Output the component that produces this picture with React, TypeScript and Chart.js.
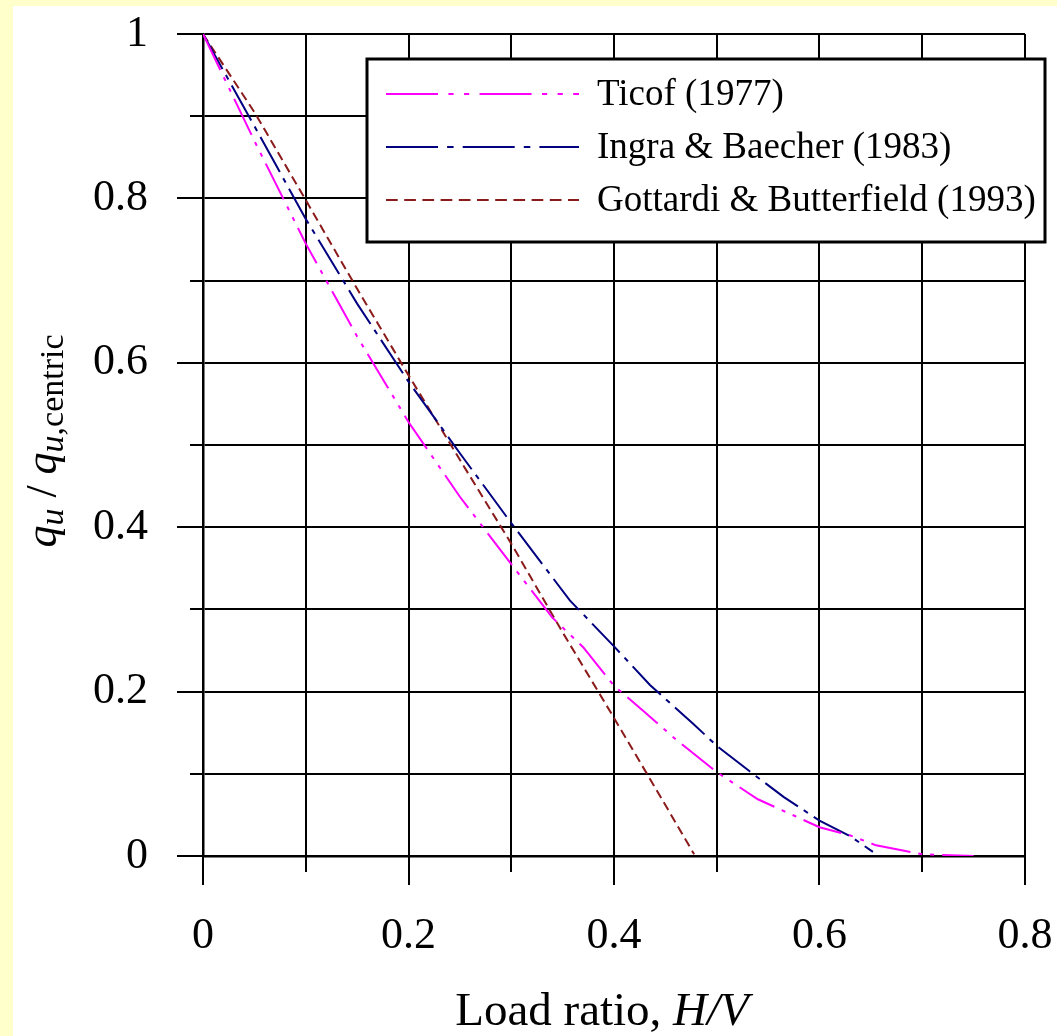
import { useEffect, useRef } from "react";
import { Chart, registerables } from "chart.js";

Chart.register(...registerables);

// ---- data ----
const seriesLabels = ["Ticof (1977)", "Ingra & Baecher (1983)", "Gottardi & Butterfield (1993)"];

const ticofX = [0, 0.05, 0.1, 0.15, 0.2, 0.25, 0.3, 0.34, 0.37, 0.4, 0.43, 0.46, 0.5, 0.54, 0.57, 0.6, 0.63, 0.655, 0.68, 0.7, 0.75];
const ticofY = [1, 0.87, 0.745, 0.632, 0.528, 0.437, 0.355, 0.29, 0.254, 0.207, 0.175, 0.142, 0.102, 0.069, 0.052, 0.035, 0.025, 0.013, 0.007, 0.002, 0];

const ingraX = [0, 0.05, 0.1, 0.15, 0.2, 0.25, 0.3, 0.357, 0.4, 0.435, 0.477, 0.5, 0.532, 0.565, 0.6, 0.63, 0.652];
const ingraY = [1, 0.888, 0.775, 0.672, 0.577, 0.49, 0.405, 0.311, 0.255, 0.208, 0.161, 0.134, 0.103, 0.072, 0.043, 0.024, 0.005];

const gottX = [0, 0.05, 0.1, 0.15, 0.2, 0.25, 0.3, 0.35, 0.4, 0.45, 0.478];
const gottY = [1, 0.905, 0.798, 0.69, 0.585, 0.482, 0.38, 0.272, 0.168, 0.062, 0.002];

const xTickLabels = ["0", "0.2", "0.4", "0.6", "0.8"];
const yTickLabels = ["0", "0.2", "0.4", "0.6", "0.8", "1"];

const xTitleParts = [
  { text: "Load ratio, ", italic: false },
  { text: "H/V", italic: true },
];
const yTitleParts = [
  { text: "q", italic: true, sub: false },
  { text: "u", italic: true, sub: true },
  { text: " / ", italic: false, sub: false },
  { text: "q", italic: true, sub: false },
  { text: "u", italic: true, sub: true },
  { text: ",centric", italic: false, sub: true },
];

const SERIF = '"Liberation Serif", "Times New Roman", serif';

const pts = (xs: number[], ys: number[]) => xs.map((x, i) => ({ x, y: ys[i] }));
const fmt = (v: number) => String(Math.round(v * 10) / 10);
const isMajor = (v: number) => Math.round(v * 10) % 2 === 0;

const tickMarks = {
  id: "tickMarks",
  afterDraw(chart: any) {
    const { ctx, chartArea, scales } = chart;
    ctx.save();
    ctx.strokeStyle = "#000";
    ctx.lineWidth = 2;
    scales.x.ticks.forEach((t: any) => {
      const px = Math.round(scales.x.getPixelForValue(t.value));
      ctx.beginPath();
      ctx.moveTo(px, chartArea.bottom);
      ctx.lineTo(px, chartArea.bottom + (isMajor(t.value) ? 29 : 16));
      ctx.stroke();
    });
    scales.y.ticks.forEach((t: any) => {
      const py = Math.round(scales.y.getPixelForValue(t.value));
      ctx.beginPath();
      ctx.moveTo(chartArea.left, py);
      ctx.lineTo(chartArea.left - (isMajor(t.value) ? 26 : 13), py);
      ctx.stroke();
    });
    ctx.restore();
  },
};

const titles = {
  id: "titles",
  afterDraw(chart: any) {
    const { ctx } = chart;
    ctx.save();
    ctx.fillStyle = "#000";
    ctx.textBaseline = "alphabetic";
    ctx.textAlign = "left";
    // x title
    const xf = (it: boolean) => `${it ? "italic " : ""}47px ${SERIF}`;
    let total = 0;
    xTitleParts.forEach((p) => {
      ctx.font = xf(p.italic);
      total += ctx.measureText(p.text).width;
    });
    let x = 602 - total / 2;
    xTitleParts.forEach((p) => {
      ctx.font = xf(p.italic);
      ctx.fillText(p.text, x, 1025);
      x += ctx.measureText(p.text).width;
    });
    // y title (rotated)
    const yf = (p: any) => `${p.italic ? "italic " : ""}${p.sub ? 34 : 44}px ${SERIF}`;
    let ytot = 0;
    yTitleParts.forEach((p) => {
      ctx.font = yf(p);
      ytot += ctx.measureText(p.text).width;
    });
    ctx.translate(56, 441);
    ctx.rotate(-Math.PI / 2);
    let pos = -ytot / 2;
    yTitleParts.forEach((p) => {
      ctx.font = yf(p);
      ctx.fillText(p.text, pos, p.sub ? 7 : 0);
      pos += ctx.measureText(p.text).width;
    });
    ctx.restore();
  },
};

const boxLegend = {
  id: "boxLegend",
  afterDraw(chart: any) {
    const { ctx } = chart;
    ctx.save();
    ctx.fillStyle = "#fff";
    ctx.fillRect(367, 59, 678, 183);
    ctx.strokeStyle = "#000";
    ctx.lineWidth = 3;
    ctx.strokeRect(367, 59, 678, 183);
    const rows = [105, 158, 211];
    chart.data.datasets.forEach((ds: any, i: number) => {
      const y = rows[i];
      ctx.strokeStyle = ds.borderColor;
      ctx.lineWidth = ds.borderWidth;
      ctx.setLineDash((ds.borderDash || []).map((d: number) => d * 1.3));
      ctx.beginPath();
      ctx.moveTo(386, y - 11);
      ctx.lineTo(579, y - 11);
      ctx.stroke();
      ctx.setLineDash([]);
      ctx.fillStyle = "#000";
      ctx.font = `37px ${SERIF}`;
      ctx.textBaseline = "alphabetic";
      ctx.fillText(ds.label, 597, y);
    });
    ctx.restore();
  },
};

export default function App() {
  const ref = useRef<HTMLCanvasElement>(null);
  useEffect(() => {
    const chart = new Chart(ref.current as HTMLCanvasElement, {
      type: "scatter",
      data: {
        datasets: [
          {
            label: seriesLabels[0],
            data: pts(ticofX, ticofY),
            showLine: true,
            borderColor: "#FF00FF",
            borderWidth: 2,
            borderDash: [40, 8, 4, 8, 4, 8],
            pointRadius: 0,
            tension: 0,
          },
          {
            label: seriesLabels[1],
            data: pts(ingraX, ingraY),
            showLine: true,
            borderColor: "#000080",
            borderWidth: 2,
            borderDash: [40, 7, 5, 7],
            pointRadius: 0,
            tension: 0,
          },
          {
            label: seriesLabels[2],
            data: pts(gottX, gottY),
            showLine: true,
            borderColor: "#8B1A1A",
            borderWidth: 2,
            borderDash: [9, 5],
            pointRadius: 0,
            tension: 0,
          },
        ],
      },
      options: {
        responsive: false,
        animation: false,
        layout: { padding: { left: 0, top: 34, right: 32, bottom: 0 } },
        plugins: { legend: { display: false }, tooltip: { enabled: false } },
        scales: {
          x: {
            type: "linear",
            min: 0,
            max: 0.8,
            afterFit: (s: any) => {
              s.height = 180;
            },
            ticks: {
              stepSize: 0.1,
              padding: 0,
              color: "#000",
              font: { family: SERIF, size: 44 },
              callback: (v: any) => {
                const s = fmt(Number(v));
                return xTickLabels.includes(s) && isMajor(Number(v)) ? s : "";
              },
              maxRotation: 0,
              autoSkip: false,
            },
            grid: { color: "#000", lineWidth: 2, drawTicks: true, tickLength: 54, tickColor: "rgba(0,0,0,0)" },
            border: { color: "#000", width: 2.5 },
          },
          y: {
            type: "linear",
            min: 0,
            max: 1,
            afterFit: (s: any) => {
              s.width = 203;
            },
            ticks: {
              stepSize: 0.1,
              padding: 0,
              color: "#000",
              font: { family: SERIF, size: 44 },
              callback: (v: any) => {
                const s = fmt(Number(v));
                return yTickLabels.includes(s) && isMajor(Number(v)) ? s : "";
              },
              autoSkip: false,
            },
            grid: { color: "#000", lineWidth: 2, drawTicks: true, tickLength: 55, tickColor: "rgba(0,0,0,0)" },
            border: { color: "#000", width: 2.5 },
          },
        },
      },
      plugins: [tickMarks, titles, boxLegend],
    } as any);
    return () => chart.destroy();
  }, []);
  return (
    <div
      style={{
        position: "fixed",
        left: 0,
        top: 0,
        width: 1057,
        height: 1036,
        background: "#FFFFCC",
        overflow: "hidden",
      }}
    >
      <div style={{ position: "absolute", left: 13, top: 6, right: 0, bottom: 0, background: "#fff" }} />
      <canvas
        ref={ref}
        width={1057}
        height={1036}
        style={{ position: "absolute", left: 0, top: 0, width: 1057, height: 1036 }}
      />
    </div>
  );
}
